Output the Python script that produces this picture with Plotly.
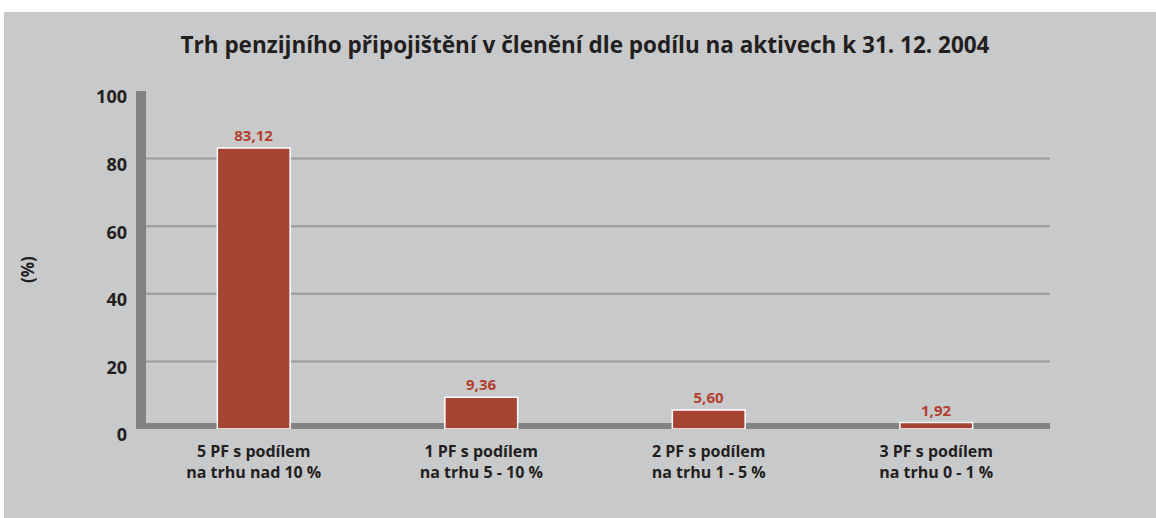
import plotly.graph_objects as go

categories = [
    "5 PF s podílem<br>na trhu nad 10 %",
    "1 PF s podílem<br>na trhu 5 - 10 %",
    "2 PF s podílem<br>na trhu 1 - 5 %",
    "3 PF s podílem<br>na trhu 0 - 1 %",
]
values = [83.12, 9.36, 5.60, 1.92]
value_labels = ["83,12", "9,36", "5,60", "1,92"]
y_ticks = [0, 20, 40, 60, 80, 100]
grid_values = [20, 40, 60, 80]

W, H = 1156, 518
L, R, T, B = 140, 106, 91, 89
PW, PH = W - L - R, H - T - B


def px_x(px):
    return (px - L) / PW


def px_y(py):
    return (H - B - py) / PH


BG = "#c8c9cb"
BAR = "#a64332"
WALL = "#818284"
GRID = "#98999b"
TXT = "#231f20"
RED = "#b3402d"
FONT = "Open Sans"

fig = go.Figure()
fig.add_trace(go.Bar(
    x=categories, y=values,
    marker=dict(color=BAR, line=dict(color="white", width=1.5)),
    text=value_labels, textposition="outside",
    textfont=dict(family=FONT, size=15, color=RED, weight="bold"),
    cliponaxis=False,
))

shapes = []
# white outer strips
shapes.append(dict(type="rect", xref="paper", yref="paper", layer="below",
                   x0=px_x(0), x1=px_x(W), y0=px_y(12), y1=px_y(0),
                   fillcolor="white", line=dict(width=0)))
shapes.append(dict(type="rect", xref="paper", yref="paper", layer="below",
                   x0=px_x(0), x1=px_x(4), y0=px_y(H), y1=px_y(0),
                   fillcolor="white", line=dict(width=0)))
# gridlines
for g in grid_values:
    shapes.append(dict(type="line", xref="paper", yref="y", layer="between",
                       x0=0, x1=1, y0=g, y1=g, line=dict(color=GRID, width=2)))
# wall and floor
shapes.append(dict(type="rect", xref="paper", yref="y", layer="between",
                   x0=px_x(136), x1=px_x(146), y0=-1.2, y1=100,
                   fillcolor=WALL, line=dict(width=0)))
shapes.append(dict(type="rect", xref="paper", yref="y", layer="between",
                   x0=0, x1=1, y0=-1.2, y1=1.8,
                   fillcolor=WALL, line=dict(width=0)))

fig.update_layout(
    width=W, height=H,
    margin=dict(l=L, r=R, t=T, b=B),
    paper_bgcolor=BG, plot_bgcolor=BG,
    showlegend=False,
    bargap=0.68,
    shapes=shapes,
    title=dict(
        text="Trh penzijního připojištění v členění dle podílu na aktivech k 31. 12. 2004",
        x=585 / W, xanchor="center", xref="container",
        y=1 - 45 / H, yanchor="middle", yref="container",
        font=dict(family=FONT, size=22.5, color=TXT, weight="bold"),
    ),
    xaxis=dict(
        showgrid=False, zeroline=False, showline=False,
        ticks="", ticklabelstandoff=11,
        tickfont=dict(family=FONT, size=16, color=TXT, weight="bold"),
        range=[-0.5, 3.5],
    ),
    yaxis=dict(
        range=[0, 100], tickvals=y_ticks,
        showgrid=False, zeroline=False, showline=False,
        ticks="", ticklabelstandoff=12, ticklabelshift=6,
        tickfont=dict(family=FONT, size=18, color=TXT, weight="bold"),
    ),
    annotations=[dict(
        text="(%)", xref="paper", yref="paper",
        x=px_x(27), y=px_y(270), xanchor="center", yanchor="middle",
        textangle=-90, showarrow=False,
        font=dict(family=FONT, size=17, color=TXT, weight="bold"),
    )],
)

fig.write_html(
    "out.html",
    config={"displayModeBar": False},
    post_script="document.body.style.margin='0';document.body.style.overflow='hidden';",
)
